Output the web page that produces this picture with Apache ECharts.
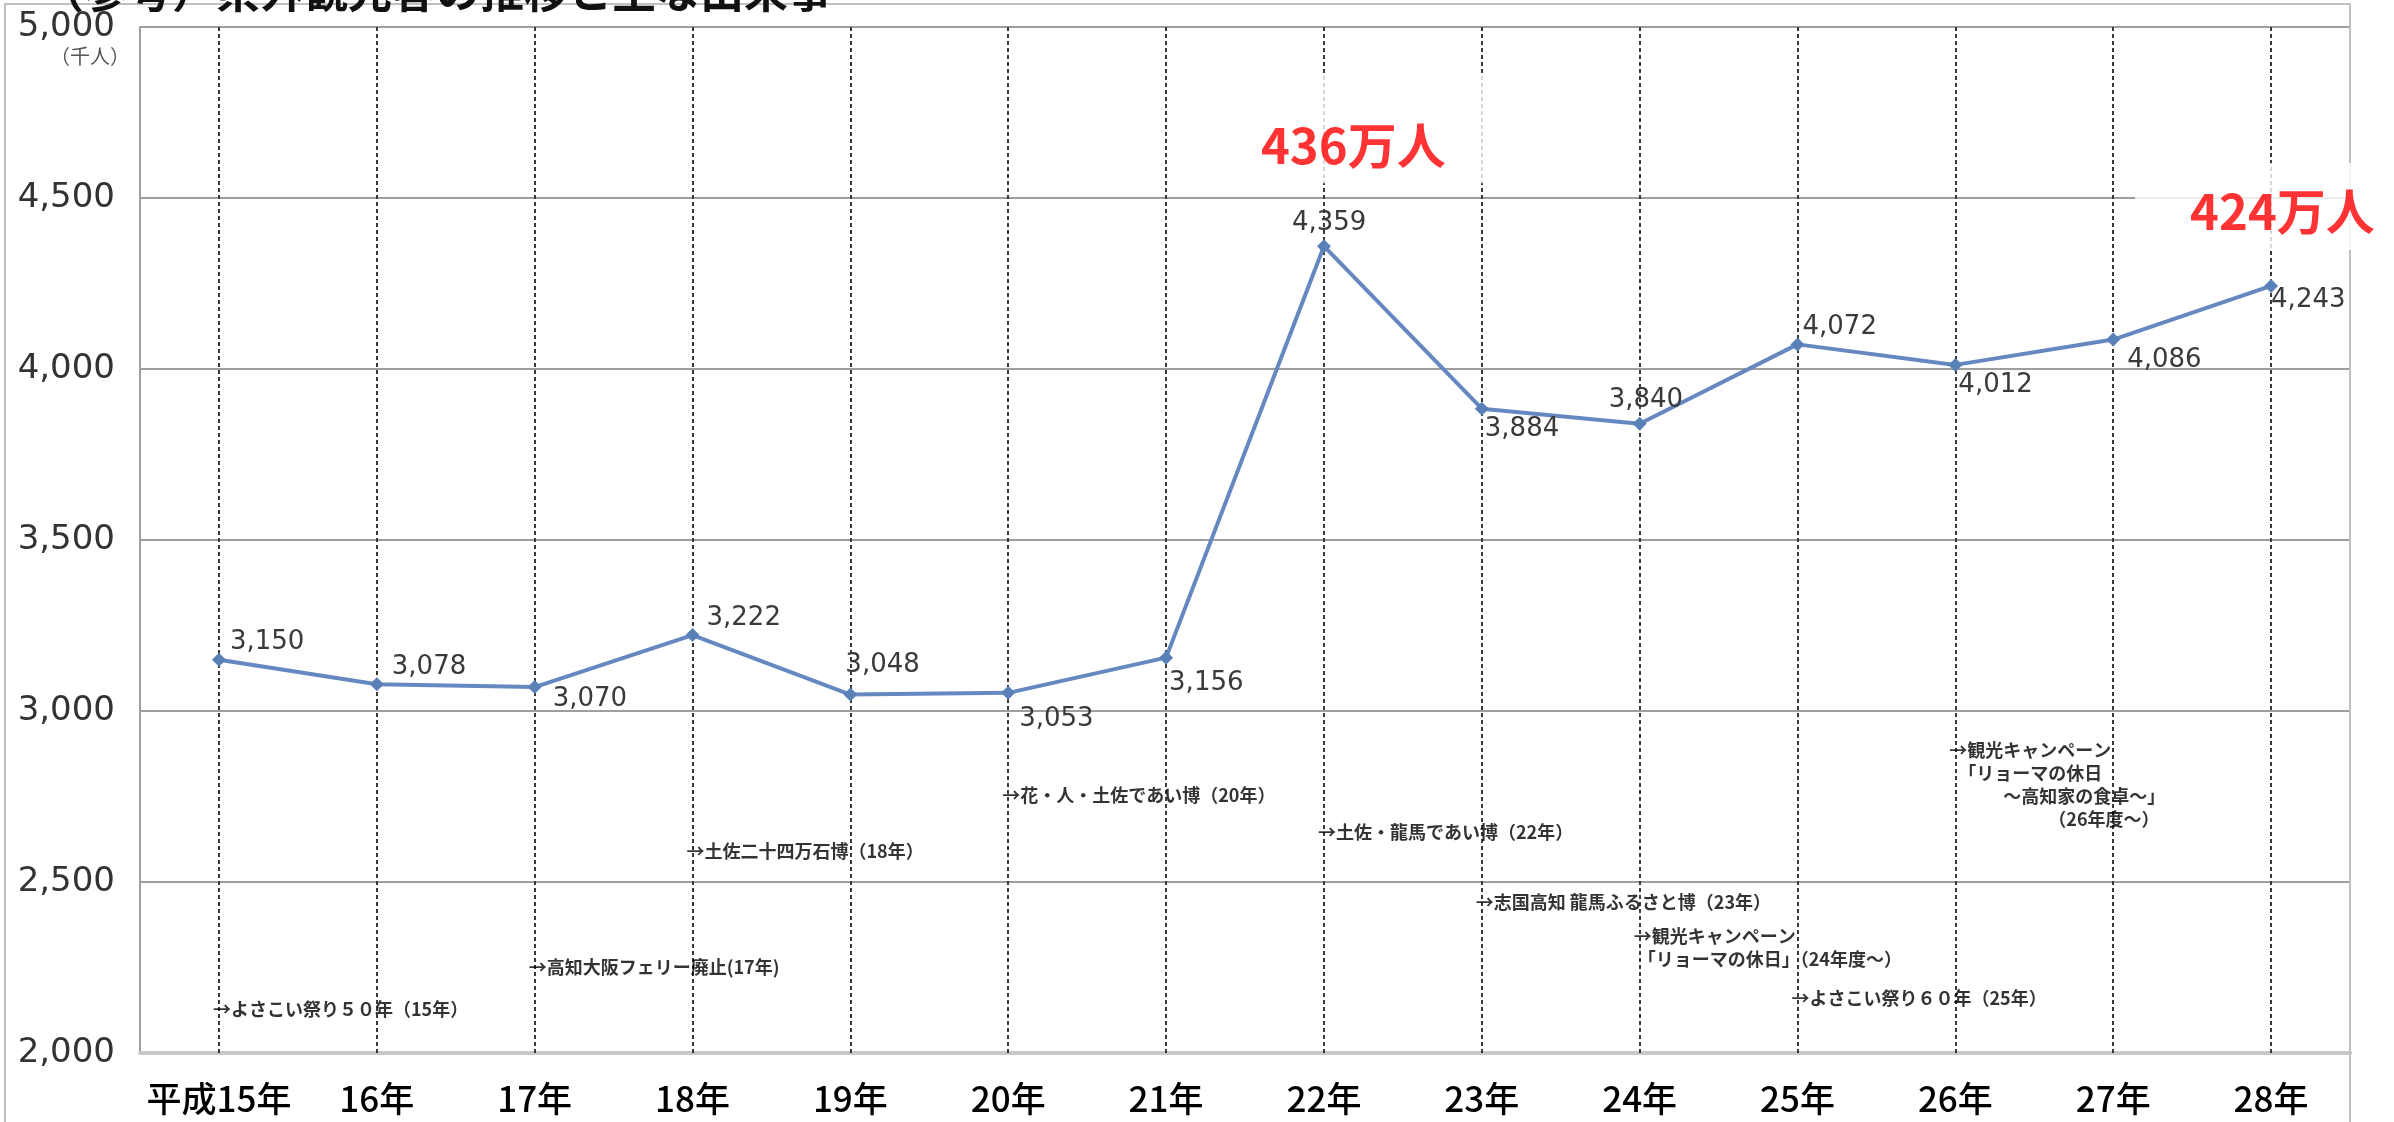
<!DOCTYPE html>
<html><head><meta charset="utf-8">
<script src="https://cdn.jsdelivr.net/npm/echarts@6/dist/echarts.min.js"></script>
<style>html,body{margin:0;padding:0;background:#fff}#c{width:2394px;height:1122px}</style>
</head><body><div id="c"></div>
<script>
// ---- data ----
const categories = ['平成15年','16年','17年','18年','19年','20年','21年','22年','23年','24年','25年','26年','27年','28年'];
const visitors = [3150, 3078, 3070, 3222, 3048, 3053, 3156, 4359, 3884, 3840, 4072, 4012, 4086, 4243];
const yMin = 2000, yMax = 5000, yStep = 500;
const unitLabel = '（千人）';
const titleText = '（参考）県外観光客の推移と主な出来事';
const calloutIndex = [7, 13];
const calloutText = ['436万人', '424万人'];
const eventTexts = [
  '→よさこい祭り５０年（15年）',
  '→高知大阪フェリー廃止(17年)',
  '→土佐二十四万石博（18年）',
  '→花・人・土佐であい博（20年）',
  '→土佐・龍馬であい博（22年）',
  '→志国高知 龍馬ふるさと博（23年）',
  '→観光キャンペーン\n 「リョーマの休日」（24年度～）',
  '→よさこい祭り６０年（25年）',
  '→観光キャンペーン\n　「リョーマの休日\n　　　～高知家の食卓～」\n　　　　　　（26年度～）'
];
const eventCategory = [0, 2, 3, 5, 7, 8, 9, 10, 11];
const eventLevel = [2129, 2250, 2589, 2754, 2647, 2442, 2308, 2161, 2786];

// ---- styling (label placement offsets in px) ----
const labelOffsets = [[11,-17],[15,-17],[18,12],[14,-17],[-5,-29],[11,26],[3,26],[-32,-23],[3,21],[-31,-23],[5,-17],[3,20],[14,21],[0,14]];
const calloutStyle = [
  {offset: [-110, -171], padding: [45, 72, 12, 47]},
  {offset: [-136, -123], padding: [23, 13, 13, 55]}
];

const chart = echarts.init(document.getElementById('c'));
const fmt = v => v.toLocaleString('en-US');

chart.setOption({
  animation: false,
  backgroundColor: '#fff',
  grid: {left: 140, right: 44, top: 27, bottom: 69, containLabel: false},
  xAxis: {
    type: 'category', data: categories, boundaryGap: true,
    axisLine: {lineStyle: {color: '#c8c8c8', width: 4}},
    axisTick: {show: false},
    axisLabel: {color: '#000', fontSize: 35, fontFamily: 'Noto Sans CJK JP', fontWeight: 500, margin: 28, interval: 0},
    splitLine: {show: false}
  },
  yAxis: {
    type: 'value', min: yMin, max: yMax, interval: yStep,
    axisLine: {show: true, lineStyle: {color: '#a0a0a0', width: 2}},
    axisTick: {show: false},
    axisLabel: {color: '#333', fontSize: 34, fontFamily: 'DejaVu Sans', margin: 25, formatter: fmt},
    splitLine: {lineStyle: {color: '#9e9e9e', width: 2}}
  },
  graphic: [
    {type: 'rect', z: 1, silent: true, shape: {x: 5, y: 4, width: 2345, height: 1200},
     style: {fill: 'none', stroke: '#c0c0c0', lineWidth: 2}},
    {type: 'text', z: 2, silent: true, left: 40, top: -31,
     style: {text: titleText, fontSize: 44, fontWeight: 'bold', fontFamily: 'Noto Sans CJK JP', fill: '#111'}},
    {type: 'text', z: 2, silent: true, right: 2394 - 130, top: 46,
     style: {text: unitLabel, fontSize: 20, fontFamily: 'Noto Sans CJK JP', fill: '#555', textAlign: 'right'}}
  ],
  series: [
    {
      type: 'line', z: 1, data: [], silent: true,
      markLine: {
        silent: true, symbol: 'none', animation: false,
        label: {show: false},
        lineStyle: {color: '#3a3a3a', width: 2, type: [4, 3]},
        data: categories.map(c => ({xAxis: c}))
      }
    },
    {
      type: 'scatter', z: 5, silent: true, symbolSize: 0,
      data: eventCategory.map((c, i) => [c, eventLevel[i]]),
      label: {
        show: true, position: 'inside', align: 'left', verticalAlign: 'middle', offset: [-6, 0],
        formatter: p => eventTexts[p.dataIndex],
        fontSize: 18, fontWeight: 'bold', color: '#000', lineHeight: 23, fontFamily: 'Noto Sans CJK JP'
      }
    },
    {
      type: 'line', z: 10, data: visitors.map((v, i) => ({
        value: v,
        label: {offset: labelOffsets[i]}
      })),
      symbol: 'diamond', symbolSize: 14,
      itemStyle: {color: '#5a80b8'},
      lineStyle: {color: '#6688c0', width: 4},
      label: {
        show: true, position: 'inside', align: 'left', verticalAlign: 'middle',
        formatter: p => fmt(p.value), color: '#3a3a3a', fontSize: 26, fontFamily: 'DejaVu Sans'
      }
    },
    {
      type: 'scatter', z: 20, silent: true, symbolSize: 0,
      data: calloutIndex.map((ci, k) => ({
        value: [ci, visitors[ci]],
        label: {offset: calloutStyle[k].offset, padding: calloutStyle[k].padding}
      })),
      label: {
        show: true, position: 'inside', align: 'left', verticalAlign: 'top',
        formatter: p => calloutText[p.dataIndex],
        color: '#ff0000', fontSize: 49, fontWeight: 'bold', fontFamily: 'Noto Sans CJK JP',
        lineHeight: 51, backgroundColor: '#fff'
      }
    }
  ]
});
</script>
</body></html>
